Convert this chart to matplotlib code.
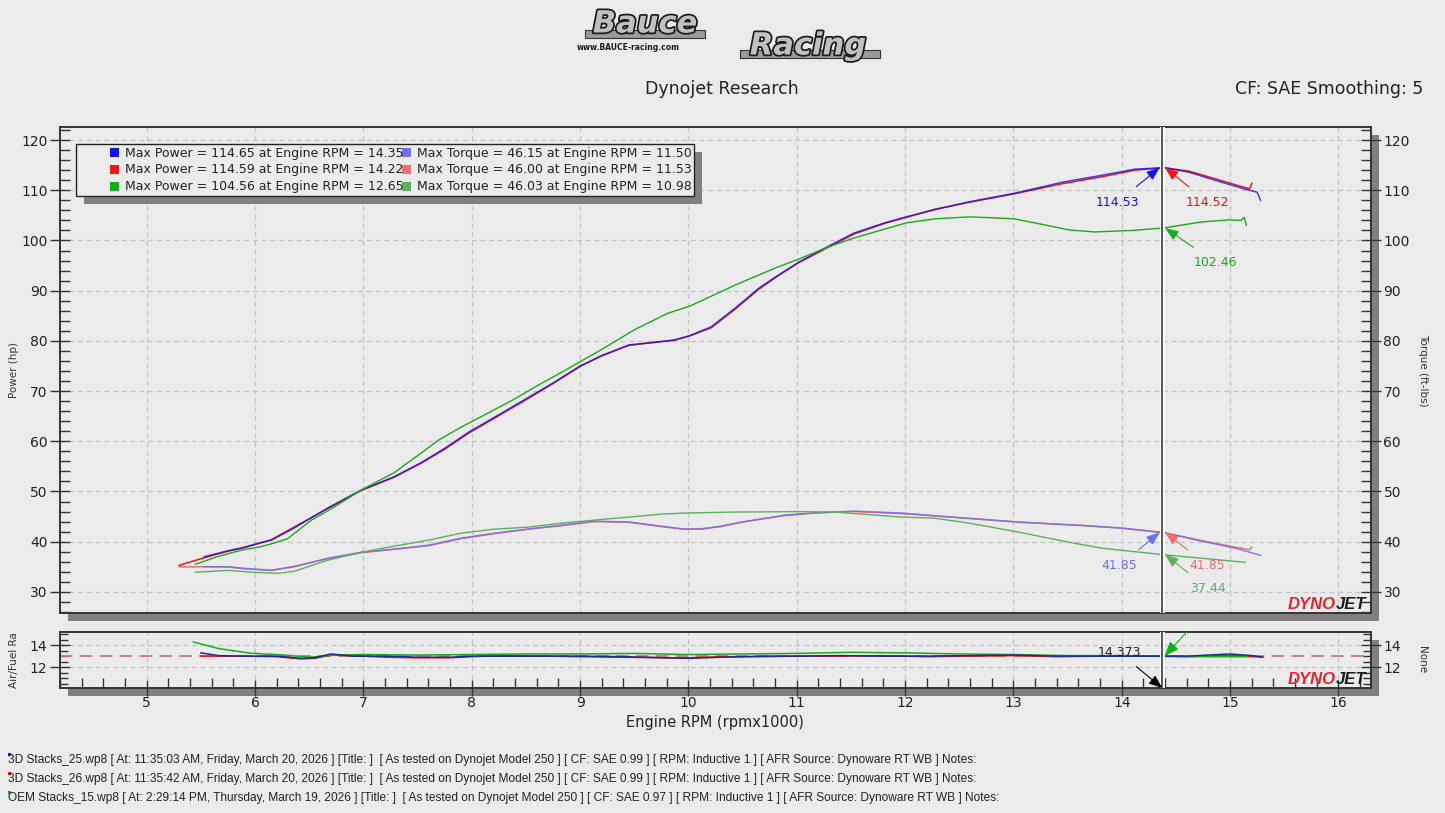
import matplotlib
matplotlib.use('Agg')
import matplotlib.pyplot as plt
import matplotlib.patheffects as pe
from matplotlib.patches import Rectangle
from matplotlib.ticker import MultipleLocator

# ---- data (rpm x1000) ----
rpm_pwr_blue = [5.53, 5.75, 5.9, 6.03, 6.15, 6.36, 6.67, 6.98, 7.28, 7.53, 7.75, 7.97, 8.21, 8.48, 8.75,
                9.0, 9.2, 9.45, 9.66, 9.87, 10.01, 10.21, 10.43, 10.65, 10.83, 11.02, 11.26, 11.53, 11.81,
                12.01, 12.27, 12.59, 13.01, 13.45, 13.82, 14.12, 14.39, 14.62, 14.86, 15.11, 15.25, 15.28]
pwr_blue = [37.0, 38.2, 38.9, 39.7, 40.3, 42.7, 46.7, 50.3, 52.9, 55.7, 58.6, 61.8, 64.8, 68.2, 71.6,
            75.0, 77.0, 79.2, 79.6, 80.2, 81.0, 82.8, 86.5, 90.5, 93.1, 95.7, 98.5, 101.5, 103.5,
            104.7, 106.1, 107.7, 109.4, 111.6, 113.0, 114.2, 114.5, 113.6, 112.0, 110.4, 109.6, 108.0]

rpm_pwr_red = [5.3, 5.5, 5.75, 5.9, 6.03, 6.15, 6.36, 6.67, 6.98, 7.28, 7.53, 7.75, 7.97, 8.21, 8.48, 8.75,
               9.0, 9.2, 9.45, 9.66, 9.87, 10.01, 10.21, 10.43, 10.65, 10.83, 11.02, 11.26, 11.53, 11.81,
               12.01, 12.27, 12.59, 13.01, 13.45, 13.82, 14.12, 14.39, 14.62, 14.86, 15.11, 15.18, 15.2]
pwr_red = [35.3, 36.6, 38.1, 38.8, 39.6, 40.4, 42.9, 46.6, 50.2, 52.8, 55.6, 58.4, 61.6, 64.6, 68.0, 71.5,
           74.9, 77.1, 79.1, 79.7, 80.1, 81.0, 82.6, 86.3, 90.3, 93.0, 95.6, 98.3, 101.3, 103.4,
           104.6, 106.2, 107.6, 109.3, 111.3, 112.7, 114.0, 114.5, 113.8, 112.3, 110.7, 110.3, 111.4]

rpm_pwr_green = [5.45, 5.65, 5.87, 6.05, 6.17, 6.3, 6.52, 6.73, 6.98, 7.28, 7.53, 7.69, 7.9, 8.06, 8.36,
                 8.6, 8.85, 9.2, 9.5, 9.81, 10.01, 10.43, 10.8, 11.02, 11.29, 11.5, 11.72, 12.01, 12.27,
                 12.59, 12.83, 13.01, 13.29, 13.51, 13.75, 14.1, 14.39, 14.74, 14.99, 15.1, 15.13, 15.15]
pwr_green = [35.5, 37.0, 38.3, 39.0, 39.7, 40.6, 44.3, 46.9, 50.3, 53.7, 57.6, 60.2, 62.8, 64.6, 68.0,
             71.0, 74.0, 78.3, 82.2, 85.5, 86.9, 91.1, 94.5, 96.3, 98.7, 100.3, 101.7, 103.5, 104.3,
             104.7, 104.5, 104.3, 103.1, 102.1, 101.7, 102.0, 102.5, 103.7, 104.1, 104.0, 104.6, 103.0]

rpm_tq_blue = [5.53, 5.75, 5.9, 6.15, 6.36, 6.67, 6.98, 7.28, 7.6, 7.9, 8.21, 8.52, 8.83, 9.13, 9.45,
               9.75, 9.96, 10.12, 10.3, 10.49, 10.89, 11.15, 11.35, 11.53, 11.97, 12.43, 13.05, 13.66,
               14.0, 14.39, 14.74, 15.05, 15.28]
tq_blue = [35.0, 35.0, 34.7, 34.3, 35.0, 36.7, 37.9, 38.5, 39.3, 40.7, 41.7, 42.5, 43.3, 44.1, 43.9,
           43.1, 42.5, 42.5, 43.1, 43.9, 45.3, 45.7, 45.9, 46.1, 45.7, 44.9, 43.9, 43.2,
           42.7, 41.8, 40.1, 38.7, 37.3]

rpm_tq_red = [5.3, 5.75, 5.9, 6.15, 6.36, 6.67, 6.98, 7.28, 7.6, 7.9, 8.21, 8.52, 8.83, 9.13, 9.45,
              9.75, 9.96, 10.12, 10.3, 10.49, 10.89, 11.15, 11.35, 11.53, 11.97, 12.43, 13.05, 13.66,
              14.0, 14.39, 14.74, 15.05, 15.18, 15.2]
tq_red = [35.0, 35.0, 34.6, 34.3, 35.1, 36.6, 37.8, 38.5, 39.2, 40.6, 41.6, 42.5, 43.2, 44.0, 43.9,
          43.0, 42.5, 42.6, 43.0, 43.9, 45.2, 45.7, 45.9, 46.0, 45.6, 44.9, 43.9, 43.2,
          42.7, 41.8, 40.2, 38.9, 38.4, 38.9]

rpm_tq_green = [5.45, 5.75, 5.99, 6.21, 6.36, 6.67, 6.98, 7.28, 7.6, 7.9, 8.21, 8.52, 8.83, 9.13, 9.45,
                9.75, 9.96, 10.4, 10.74, 10.98, 11.35, 11.97, 12.27, 12.59, 13.05, 13.51, 13.82, 14.39,
                14.74, 15.14]
tq_green = [33.9, 34.3, 33.9, 33.7, 34.1, 36.3, 37.9, 39.1, 40.3, 41.7, 42.5, 42.9, 43.7, 44.3, 44.9,
            45.5, 45.7, 45.9, 45.95, 46.0, 45.9, 44.9, 44.7, 43.7, 41.9, 39.9, 38.7, 37.4,
            36.7, 35.9]

rpm_afr = [5.5, 5.66, 5.9, 6.2, 6.42, 6.55, 6.7, 6.9, 7.2, 7.5, 7.8, 8.0, 8.3, 8.7, 9.0, 9.4, 9.8,
           10.0, 10.3, 10.7, 11.0, 11.4, 11.8, 12.2, 12.6, 13.0, 13.4, 13.8, 14.2, 14.6, 15.0, 15.2, 15.3]
afr_blue = [13.3, 13.05, 13.0, 13.0, 12.8, 12.85, 13.2, 13.0, 13.0, 12.9, 12.9, 13.0, 13.0, 13.0, 13.0,
            12.95, 12.85, 12.8, 12.9, 13.0, 13.0, 13.05, 13.0, 13.0, 13.05, 13.1, 13.0, 13.0, 13.0,
            13.0, 13.2, 13.05, 12.9]
afr_red = [13.0, 13.0, 13.0, 12.95, 12.75, 12.8, 13.1, 13.05, 12.9, 12.85, 12.85, 12.95, 13.05, 13.0,
           12.95, 12.9, 12.85, 12.85, 12.95, 12.95, 13.0, 13.0, 13.05, 12.95, 13.0, 13.05, 12.95, 13.0,
           13.0, 12.95, 13.05, 12.95, 12.95]
rpm_afr_green = [5.43, 5.66, 5.96, 6.27, 6.5, 6.74, 7.0, 7.5, 8.0, 8.5, 9.0, 9.5, 10.0, 10.5, 11.0,
                 11.5, 12.0, 12.5, 13.0, 13.5, 14.0, 14.37, 14.8, 15.15]
afr_green = [14.3, 13.7, 13.27, 13.1, 12.9, 13.1, 13.15, 13.1, 13.15, 13.2, 13.2, 13.25, 13.15, 13.2,
             13.25, 13.35, 13.3, 13.2, 13.15, 13.05, 13.05, 13.0, 12.95, 12.95]

cursor_rpm = 14.373
legend_rows = [("Max Power = 114.65 at Engine RPM = 14.35", "Max Torque = 46.15 at Engine RPM = 11.50"),
               ("Max Power = 114.59 at Engine RPM = 14.22", "Max Torque = 46.00 at Engine RPM = 11.53"),
               ("Max Power = 104.56 at Engine RPM = 12.65", "Max Torque = 46.03 at Engine RPM = 10.98")]
footer = ["3D Stacks_25.wp8 [ At: 11:35:03 AM, Friday, March 20, 2026 ] [Title: ]  [ As tested on Dynojet Model 250 ] [ CF: SAE 0.99 ] [ RPM: Inductive 1 ] [ AFR Source: Dynoware RT WB ] Notes:",
          "3D Stacks_26.wp8 [ At: 11:35:42 AM, Friday, March 20, 2026 ] [Title: ]  [ As tested on Dynojet Model 250 ] [ CF: SAE 0.99 ] [ RPM: Inductive 1 ] [ AFR Source: Dynoware RT WB ] Notes:",
          "OEM Stacks_15.wp8 [ At: 2:29:14 PM, Thursday, March 19, 2026 ] [Title: ]  [ As tested on Dynojet Model 250 ] [ CF: SAE 0.97 ] [ RPM: Inductive 1 ] [ AFR Source: Dynoware RT WB ] Notes:"]

pwr_cols = ['#1414e6', '#ee1515', '#18ad18']
tq_cols = ['#6f6ff0', '#ef6e6e', '#5fae5f']
bg = '#ebebeb'

W, H = 1445, 813
fig = plt.figure(figsize=(14.45, 8.13), dpi=100, facecolor=bg)
plt.rcParams['font.family'] = ['DejaVu Sans']


def fx(px):
    return px / W


def fy(py):
    return 1 - py / H


def box(x0, y0, x1, y1, **kw):
    fig.add_artist(Rectangle((fx(x0), fy(y1)), fx(x1) - fx(x0), fy(y0) - fy(y1),
                             transform=fig.transFigure, **kw))


# drop shadows of the two panels
box(68, 135, 1379, 621, facecolor='#808080', edgecolor='none', zorder=-2)
box(68, 640, 1379, 696, facecolor='#808080', edgecolor='none', zorder=-2)

ax = fig.add_axes([fx(60), fy(613), fx(1371) - fx(60), fy(127) - fy(613)], facecolor=bg)
ax2 = fig.add_axes([fx(60), fy(688), fx(1371) - fx(60), fy(632) - fy(688)], facecolor=bg)

grid_kw = dict(color='#c3c3c3', ls=(0, (4, 3)), lw=0.9)
tick_kw = dict(colors='#333333', labelcolor='#222222')

# ---- main panel: power + torque ----
ax.plot(rpm_pwr_red, pwr_red, color=pwr_cols[1], lw=1.1, zorder=3)
ax.plot(rpm_pwr_blue, pwr_blue, color=pwr_cols[0], lw=1.1, alpha=0.8, zorder=3)
ax.plot(rpm_pwr_green, pwr_green, color=pwr_cols[2], lw=1.0, zorder=3)
ax.plot(rpm_tq_red, tq_red, color=tq_cols[1], lw=1.1, zorder=3)
ax.plot(rpm_tq_blue, tq_blue, color=tq_cols[0], lw=1.1, alpha=0.85, zorder=3)
ax.plot(rpm_tq_green, tq_green, color=tq_cols[2], lw=1.0, zorder=3)

ax.set_xlim(4.2, 16.3)
ax.set_ylim(25.8, 122.6)
ax.set_xticks(range(5, 17))
ax.yaxis.set_major_locator(MultipleLocator(10))
ax.yaxis.set_minor_locator(MultipleLocator(2))
ax.tick_params(axis='x', length=0, labelbottom=False)
ax.tick_params(axis='y', which='major', direction='inout', length=14, width=1, labelsize=10, pad=2, **tick_kw)
ax.tick_params(axis='y', which='minor', direction='in', length=7, width=1, colors='#333333')
ax.grid(True, **grid_kw)
ax.set_axisbelow(True)
for s in ax.spines.values():
    s.set_linewidth(1.4)
    s.set_color('#333333')

axr = ax.twinx()
axr.set_ylim(ax.get_ylim())
axr.yaxis.set_major_locator(MultipleLocator(10))
axr.yaxis.set_minor_locator(MultipleLocator(2))
axr.tick_params(axis='y', which='major', direction='inout', length=14, width=1, labelsize=10, pad=2, **tick_kw)
axr.tick_params(axis='y', which='minor', direction='in', length=7, width=1, colors='#333333')
for s in axr.spines.values():
    s.set_visible(False)

# cursor line
for a in (ax, ax2):
    a.axvline(cursor_rpm, color='white', lw=3.5, zorder=4)
    a.axvline(cursor_rpm, color='#3a3a3a', lw=1.2, zorder=5)

# value callouts at the cursor
callouts = [("114.53", (14.35, 114.53), (13.96, 107.65), pwr_cols[0]),
            ("114.52", (14.40, 114.52), (14.79, 107.65), pwr_cols[1]),
            ("102.46", (14.40, 102.46), (14.86, 95.7), pwr_cols[2]),
            ("41.85", (14.35, 41.85), (13.98, 35.34), tq_cols[0]),
            ("41.85", (14.40, 41.85), (14.79, 35.34), tq_cols[1]),
            ("37.44", (14.40, 37.44), (14.79, 30.76), tq_cols[2])]
for txt, xy, xyt, c in callouts:
    ax.annotate(txt, xy=xy, xytext=xyt, color=c, fontsize=9, ha='center', va='center', zorder=6,
                arrowprops=dict(arrowstyle='-|>,head_length=0.9,head_width=0.35', color=c, lw=0.8,
                                shrinkA=7, shrinkB=0))

# ---- air/fuel panel ----
ax2.axhline(13.0, color='#c47a7a', ls=(0, (7, 4)), lw=1.3, zorder=2)
ax2.plot(rpm_afr, afr_red, color=pwr_cols[1], lw=1.1, zorder=3)
ax2.plot(rpm_afr_green, afr_green, color=pwr_cols[2], lw=1.1, zorder=3)
ax2.plot(rpm_afr, afr_blue, color='#1a2a90', lw=1.1, zorder=3)
ax2.set_xlim(4.2, 16.3)
ax2.set_ylim(10.1, 15.2)
ax2.set_xticks(range(5, 17))
ax2.xaxis.set_minor_locator(MultipleLocator(0.2))
ax2.set_yticks([12, 14])
ax2.yaxis.set_minor_locator(MultipleLocator(0.5))
ax2.tick_params(axis='x', which='major', direction='inout', length=12, width=1, labelsize=10, pad=0, **tick_kw)
ax2.tick_params(axis='x', which='minor', direction='in', length=7, width=1, colors='#333333')
ax2.tick_params(axis='y', which='major', direction='inout', length=14, width=1, labelsize=10, pad=2, **tick_kw)
ax2.tick_params(axis='y', which='minor', direction='in', length=6, width=1, colors='#333333')
ax2.grid(True, **grid_kw)
ax2.set_axisbelow(True)
for s in ax2.spines.values():
    s.set_linewidth(1.4)
    s.set_color('#333333')
ax2r = ax2.twinx()
ax2r.set_ylim(ax2.get_ylim())
ax2r.set_yticks([12, 14])
ax2r.yaxis.set_minor_locator(MultipleLocator(0.5))
ax2r.tick_params(axis='y', which='major', direction='inout', length=14, width=1, labelsize=10, pad=2, **tick_kw)
ax2r.tick_params(axis='y', which='minor', direction='in', length=6, width=1, colors='#333333')
for s in ax2r.spines.values():
    s.set_visible(False)

ax2.annotate("14.373", xy=(cursor_rpm, 10.1), xytext=(13.98, 13.3), fontsize=9, ha='center', va='center',
             color='#222222', zorder=6,
             arrowprops=dict(arrowstyle='-|>,head_length=0.9,head_width=0.35', color='black', lw=0.8,
                             shrinkA=5, shrinkB=0))
ax2.annotate("", xy=(cursor_rpm + 0.02, 13.0), xytext=(14.6, 15.2), zorder=6,
             arrowprops=dict(arrowstyle='-|>,head_length=0.9,head_width=0.35', color=pwr_cols[2], lw=0.8,
                             shrinkA=0, shrinkB=0))

# DYNOJET marks
for yb in (613, 688):
    fig.text(fx(1336), fy(yb - 1), "DYNO", color='#e8222c', fontsize=12, fontweight='bold',
             fontstyle='italic', ha='right', va='bottom', family='Liberation Sans')
    fig.text(fx(1336), fy(yb - 1), "JET", color='#1c1c1c', fontsize=12, fontweight='bold',
             fontstyle='italic', ha='left', va='bottom', family='Liberation Sans')

# legend box with shadow
box(84, 152, 702, 204, facecolor='#808080', edgecolor='none', zorder=7)
box(76, 144, 694, 196, facecolor=bg, edgecolor='#222222', lw=1.0, zorder=8)
for i, (lp, lt) in enumerate(legend_rows):
    yc = 153 + i * 16.7
    box(110, yc - 4.5, 119, yc + 4.5, facecolor=pwr_cols[i], edgecolor='none', zorder=9)
    box(402, yc - 4.5, 411, yc + 4.5, facecolor=tq_cols[i], edgecolor='none', zorder=9)
    fig.text(fx(125), fy(yc), lp, fontsize=9, va='center', ha='left', color='#222222', zorder=9)
    fig.text(fx(417), fy(yc), lt, fontsize=9, va='center', ha='left', color='#222222', zorder=9)

# axis labels
fig.text(fx(14), fy(370), "Power (hp)", rotation=90, fontsize=7.5, ha='center', va='center', color='#333333')
fig.text(fx(1423), fy(370), "Torque (ft-lbs)", rotation=270, fontsize=7.5, ha='center', va='center', color='#333333')
fig.text(fx(14), fy(660), "Air/Fuel Ra", rotation=90, fontsize=7.5, ha='center', va='center', color='#333333')
fig.text(fx(1422), fy(660), "None", rotation=270, fontsize=7.5, ha='center', va='center', color='#333333')
fig.text(fx(715), fy(723), "Engine RPM (rpmx1000)", fontsize=10.5, ha='center', va='center', color='#222222')

# header
fig.text(fx(722), fy(89), "Dynojet Research", fontsize=12.5, ha='center', va='center', color='#222222')
fig.text(fx(1423), fy(89), "CF: SAE Smoothing: 5", fontsize=12.5, ha='right', va='center', color='#222222')
stroke = [pe.withStroke(linewidth=2.5, foreground='#1a1a1a')]
box(585, 30, 705, 38, facecolor='#9a9a9a', edgecolor='#333333', lw=0.8)
box(740, 50, 880, 58, facecolor='#9a9a9a', edgecolor='#333333', lw=0.8)
fig.text(fx(645), fy(24), "Bauce", fontsize=22, fontweight='bold', fontstyle='italic', ha='center',
         va='center', color='#c0c0c0', path_effects=stroke)
fig.text(fx(808), fy(46), "Racing", fontsize=22, fontweight='bold', fontstyle='italic', ha='center',
         va='center', color='#c0c0c0', path_effects=stroke)
fig.text(fx(628), fy(47), "www.BAUCE-racing.com", fontsize=5.5, fontweight='bold', ha='center',
         va='center', color='#1a1a1a')

# run info footer
for i, line in enumerate(footer):
    yc = 760 + i * 19
    fig.text(fx(8), fy(yc), line, fontsize=8.6, ha='left', va='center', color='#222222',
             family='Liberation Sans')
    box(8, yc - 7, 11, yc - 4, facecolor=pwr_cols[i], edgecolor='none')

fig.savefig('out.png', dpi=100, facecolor=bg)
